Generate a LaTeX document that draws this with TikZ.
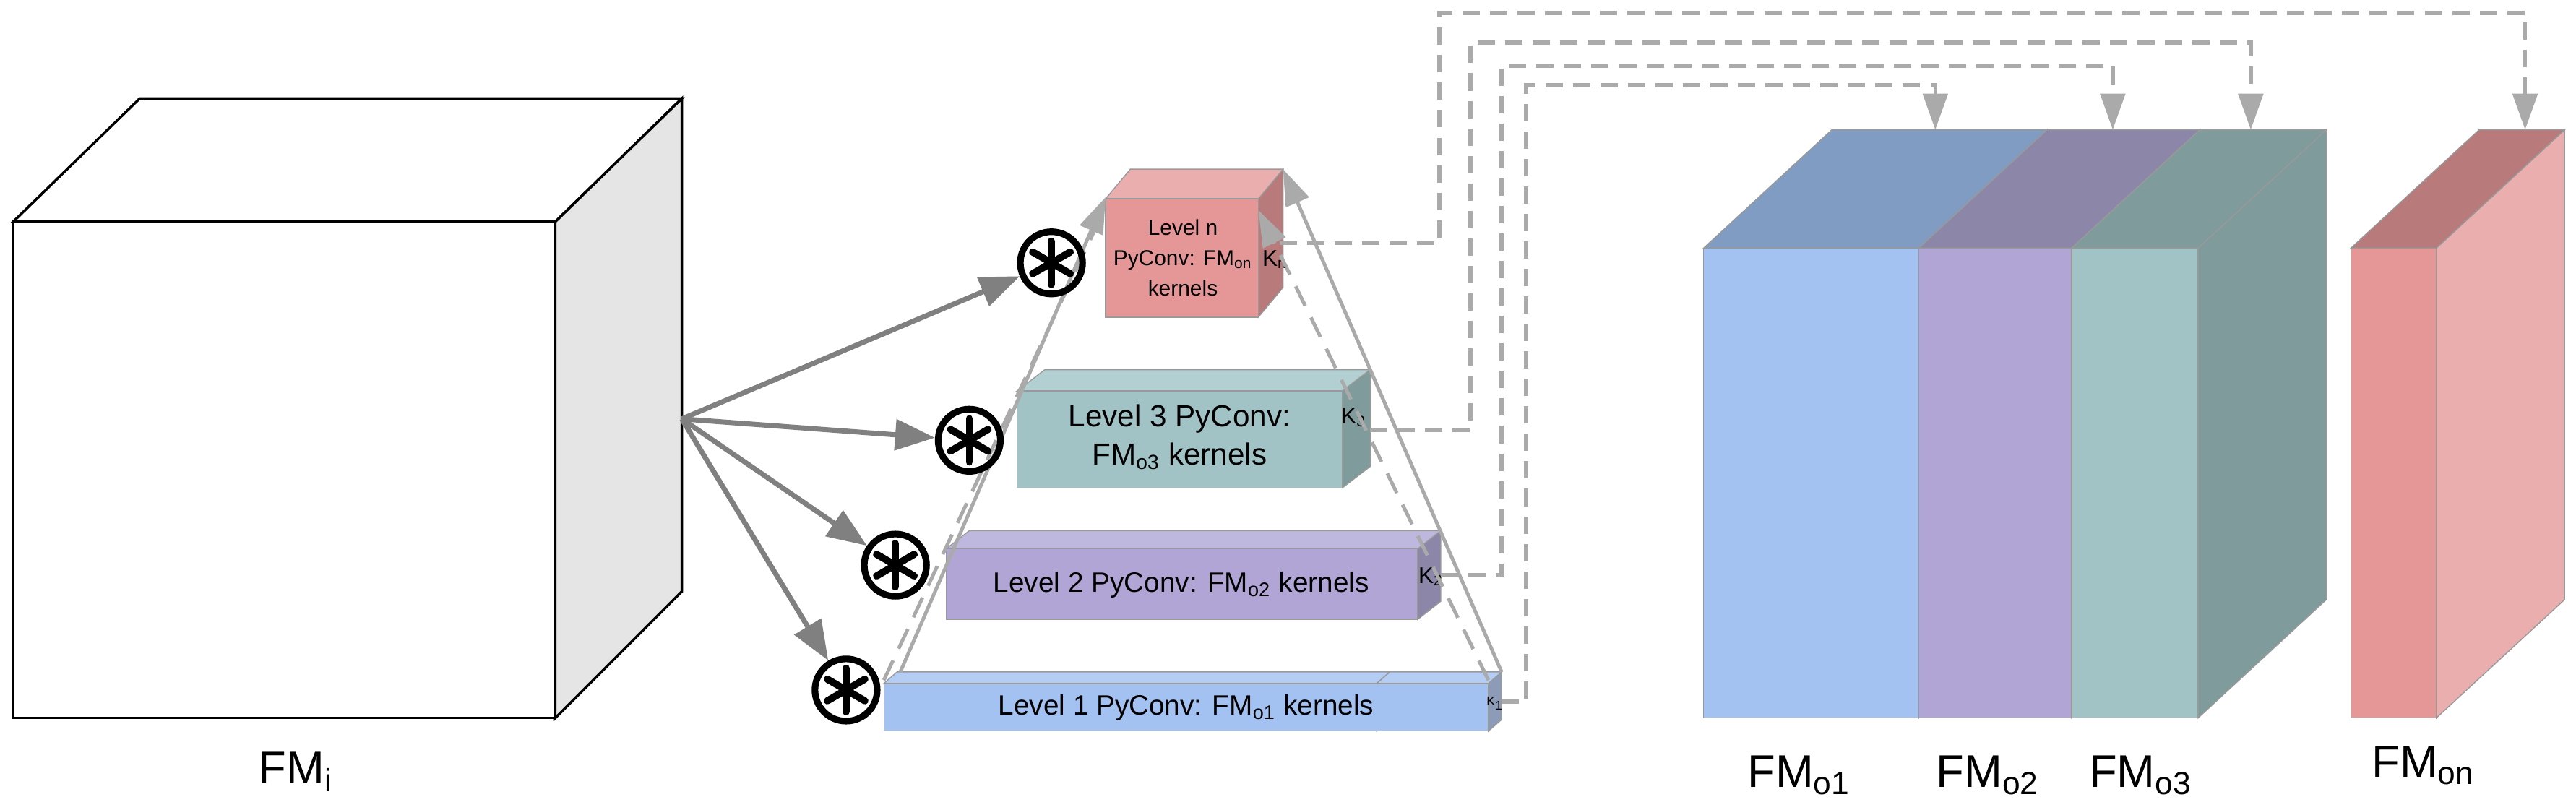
\documentclass[tikz,border=0pt]{standalone}
\usepackage{fontspec}
\setmainfont{Liberation Sans}
\usetikzlibrary{arrows.meta,calc}
\definecolor{edge}{HTML}{999999}
\definecolor{lineg}{HTML}{AAAAAA}
\definecolor{arrg}{HTML}{808080}
\definecolor{blueF}{HTML}{A3C1F1}\definecolor{blueT}{HTML}{B3CDF5}\definecolor{blueS}{HTML}{8C9CB8}\definecolor{blueD}{HTML}{809CC2}
\definecolor{violF}{HTML}{B1A5D6}\definecolor{violT}{HTML}{BFB8DE}\definecolor{violS}{HTML}{8C86A9}
\definecolor{tealF}{HTML}{A1C3C6}\definecolor{tealT}{HTML}{B2CFD2}\definecolor{tealS}{HTML}{7F9B9C}
\definecolor{redF}{HTML}{E59797}\definecolor{redT}{HTML}{EBAEAE}\definecolor{redS}{HTML}{B87A7A}
% front face, top face, side face of a box
\newcommand\cuboid[8]{%
  \fill[#8,draw=edge] (#3,#4) -- ([shift={(#1)}]#3,#4) -- ([shift={(#1)}]#3,#5) -- (#3,#5) -- cycle;
  \fill[#7,draw=edge] (#2,#4) -- ([shift={(#1)}]#2,#4) -- ([shift={(#1)}]#3,#4) -- (#3,#4) -- cycle;
  \fill[#6,draw=edge] (#2,#4) rectangle (#3,#5);}
\begin{document}
\begin{tikzpicture}[x=0.0227cm,y=-0.0227cm,
    conv/.style={circle,draw=black,line width=2.6pt,minimum size=0.86cm,inner sep=0pt},
    feed/.style={draw=arrg,line width=2pt,-{Triangle[length=0.55cm,width=0.42cm]}},
    pyr/.style={draw=lineg,line width=1.4pt},
    link/.style={draw=lineg,line width=1.6pt,dash pattern=on 0.24cm off 0.14cm,-{Triangle[length=0.5cm,width=0.34cm]}},
    lbl/.style={font=\fontsize{18}{20}\selectfont},
    ktxt/.style={font=\fontsize{9}{10}\selectfont,inner sep=0pt}]
\useasboundingbox (0,0) rectangle (1568,493);
% input feature map
\draw[black,line width=1pt,fill=white] (8,135) -- (85,60) -- (415,60) -- (338,135) -- cycle;
\draw[black,line width=1pt,fill=black!10] (338,135) -- (415,60) -- (415,360) -- (338,437) -- cycle;
\draw[black,line width=1pt,fill=white] (8,135) rectangle (338,437);
\node[lbl] (fmi) at (180,470) {FM\textsubscript{i}};
\coordinate (src) at (415,255);
% pyramid levels
\cuboid{8,-7}{538}{838}{416}{445}{blueF}{blueT}{blueS}
\cuboid{8,-7}{838}{906}{416}{445}{blueS}{blueT}{blueS}
\fill[blueF,draw=edge] (538,416) rectangle (906,445);
\cuboid{14,-11}{576}{863}{334}{377}{violF}{violT}{violS}
\cuboid{17,-13}{619}{817}{238}{297}{tealF}{tealT}{tealS}
\cuboid{15,-18}{673}{766}{121}{193}{redF}{redT}{redS}
\node[font=\fontsize{11}{13}\selectfont] (lv1) at (722,431) {Level 1 PyConv: FM\textsubscript{o1} kernels};
\node[font=\fontsize{11}{13}\selectfont] (lv2) at (719,356) {Level 2 PyConv: FM\textsubscript{o2} kernels};
\node[font=\fontsize{12}{15}\selectfont,align=center] (lv3) at (718,266) {Level 3 PyConv:\\FM\textsubscript{o3} kernels};
\node[font=\fontsize{8.5}{12}\selectfont,align=center] (lvn) at (720,157) {Level n\\PyConv: FM\textsubscript{on}\\kernels};
\node[ktxt] (kn) at (776,158) {K\textsubscript{n}};
\node[ktxt] (k3) at (824,254) {K\textsubscript{3}};
\node[ktxt] (k2) at (871,351) {K\textsubscript{2}};
\node[ktxt,font=\fontsize{5}{6}\selectfont] (k1) at (910,428) {K\textsubscript{1}};
% pyramid outline
\draw[pyr,dash pattern=on 0.3cm off 0.18cm] (538,414) -- (672,128);
\draw[pyr,dash pattern=on 0.3cm off 0.18cm,-{Triangle[length=0.5cm,width=0.34cm]}] (906,414) -- (766,128);
\draw[pyr,-{Triangle[length=0.5cm,width=0.34cm]}] (548,409) -- (673,120);
\draw[pyr,-{Triangle[length=0.5cm,width=0.34cm]}] (914,409) -- (781,103);
% convolutions
\node[conv] (c1) at (515,420) {};
\node[conv] (c2) at (545,344) {};
\node[conv] (c3) at (590,268) {};
\node[conv] (cn) at (640,160) {};
\foreach \c in {c1,c2,c3,cn}
  \foreach \a in {30,90,150}
    \draw[line width=2.8pt,line cap=round] ([shift={(\a:0.3cm)}]\c.center) -- ([shift={(\a+180:0.3cm)}]\c.center);
\draw[feed] (src) -- (c1);
\draw[feed] (src) -- (c2);
\draw[feed] (src) -- (c3);
\draw[feed] (src) -- (cn);
% output feature maps
\cuboid{78,-72}{1037}{1168}{151}{437}{blueF}{blueD}{blueD}
\cuboid{78,-72}{1168}{1261}{151}{437}{violF}{violS}{violS}
\cuboid{78,-72}{1261}{1338}{151}{437}{tealF}{tealS}{tealS}
\cuboid{78,-72}{1431}{1483}{151}{437}{redF}{redS}{redT}
\coordinate (fo1) at (1178,79);
\coordinate (fo2) at (1286,79);
\coordinate (fo3) at (1370,79);
\coordinate (fon) at (1537,79);
\node[lbl] (l1) at (1095,472) {FM\textsubscript{o1}};
\node[lbl] (l2) at (1210,472) {FM\textsubscript{o2}};
\node[lbl] (l3) at (1303,472) {FM\textsubscript{o3}};
\node[lbl] (ln) at (1475,466) {FM\textsubscript{on}};
% concatenation
\draw[link] (914,427) -- (929,427) |- (1178,52) -- (fo1);
\draw[link] (877,350) -- (914,350) |- (1286,40) -- (fo2);
\draw[link] (834,262) -- (895,262) |- (1370,26) -- (fo3);
\draw[link] (779,148) -- (876,148) |- (1537,8) -- (fon);
\end{tikzpicture}
\end{document}
